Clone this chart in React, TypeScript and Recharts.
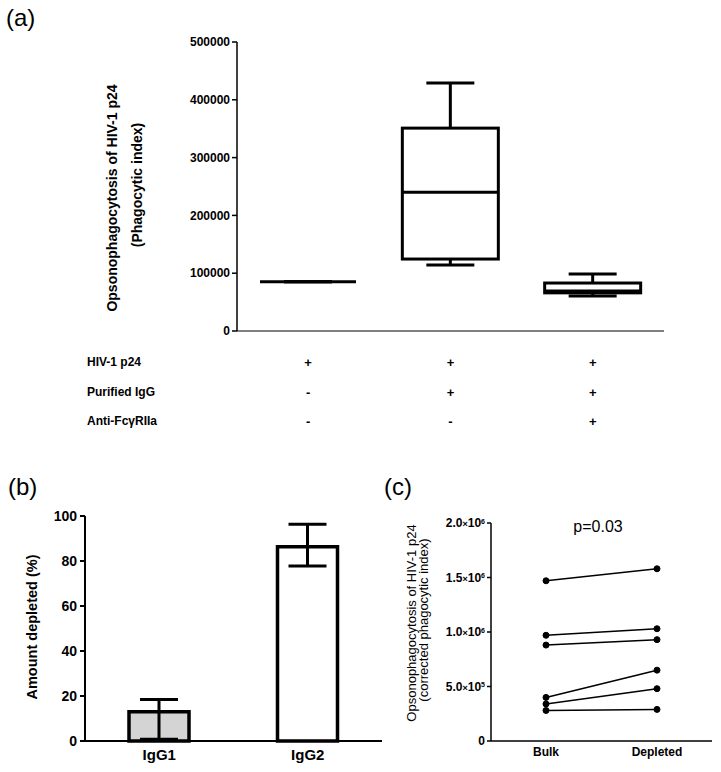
import React from "react";
import {
  ComposedChart,
  BarChart,
  LineChart,
  Bar,
  Line,
  Cell,
  ErrorBar,
  XAxis,
  YAxis,
} from "recharts";

const FONT = "Arial, 'Liberation Sans', Helvetica, sans-serif";

// (a) phagocytic index box plots
const conditions = ["p24", "p24 + IgG", "p24 + IgG + anti-FcγRIIa"];
const boxMin = [85000, 114000, 60500];
const boxQ1 = [85000, 124500, 66000];
const boxMedian = [85000, 240000, 69000];
const boxQ3 = [85000, 351000, 83000];
const boxMax = [85000, 429000, 98500];
const aTicks = [0, 100000, 200000, 300000, 400000, 500000];

const tableRows = ["HIV-1 p24", "Purified IgG", "Anti-FcγRIIa"];
const tableMarks = [
  ["+", "+", "+"],
  ["-", "+", "+"],
  ["-", "-", "+"],
];

// (b) amount depleted
const isotypes = ["IgG1", "IgG2"];
const depletedPct = [13, 86.3];
const depletedErrLow = [12.2, 8.5];
const depletedErrHigh = [5.5, 10];
const isotypeFills = ["#d4d4d4", "#ffffff"];
const bTicks = [0, 20, 40, 60, 80, 100];

// (c) paired bulk vs depleted
const pairConditions = ["Bulk", "Depleted"];
const bulkValues = [1470000, 970000, 880000, 400000, 340000, 280000];
const depletedValues = [1580000, 1030000, 930000, 650000, 480000, 290000];
const cTicks = [0, 500000, 1000000, 1500000, 2000000];

const boxData = conditions.map((name, i) => ({
  name,
  range: [boxMin[i], boxMax[i]],
  min: boxMin[i],
  q1: boxQ1[i],
  median: boxMedian[i],
  q3: boxQ3[i],
  max: boxMax[i],
}));

const depletionData = isotypes.map((name, i) => ({
  name,
  value: depletedPct[i],
  err: [depletedErrLow[i], depletedErrHigh[i]],
}));

const pairData = pairConditions.map((name, c) => {
  const row: Record<string, any> = { name };
  bulkValues.forEach((b, s) => {
    row["s" + s] = c === 0 ? b : depletedValues[s];
  });
  return row;
});

// table rows sit below the x axis of (a)
const rowOffsets = [31, 61, 90];

function BoxShape(props: any) {
  const { x, y, width, height, payload } = props;
  const top = Math.min(y, y + height);
  const bottom = Math.max(y, y + height);
  const span = payload.max - payload.min;
  const pix = (v: number) =>
    span === 0 ? bottom : bottom - ((v - payload.min) / span) * (bottom - top);
  const cx = x + width / 2;
  const cap = width / 4;
  return (
    <g stroke="#000" strokeWidth={3} fill="none">
      <line x1={cx} x2={cx} y1={pix(payload.max)} y2={pix(payload.q3)} />
      <line x1={cx - cap} x2={cx + cap} y1={pix(payload.max)} y2={pix(payload.max)} />
      <line x1={cx} x2={cx} y1={pix(payload.q1)} y2={pix(payload.min)} />
      <line x1={cx - cap} x2={cx + cap} y1={pix(payload.min)} y2={pix(payload.min)} />
      <rect
        x={x}
        y={pix(payload.q3)}
        width={width}
        height={Math.max(0, pix(payload.q1) - pix(payload.q3))}
      />
      <line x1={x} x2={x + width} y1={pix(payload.median)} y2={pix(payload.median)} />
    </g>
  );
}

function TableTick(props: any) {
  const { x, y, index } = props;
  return (
    <g style={{ fontFamily: FONT, fontWeight: "bold" }} fontSize={13} fill="#000">
      {tableMarks.map((marks, r) => (
        <text key={r} x={x} y={y + rowOffsets[r]} dy="0.35em" textAnchor="middle">
          {marks[index]}
        </text>
      ))}
    </g>
  );
}

function SciTick(props: any) {
  const { x, y, payload } = props;
  const v = payload.value;
  const style = { fontFamily: FONT, fontWeight: "bold" as const, fill: "#000" };
  if (v === 0) {
    return (
      <text x={x} y={y} dy="0.35em" textAnchor="end" fontSize={12} style={style}>
        0
      </text>
    );
  }
  const exp = Math.floor(Math.log10(v));
  const mant = (v / Math.pow(10, exp)).toFixed(1);
  return (
    <text x={x} y={y} dy="0.35em" textAnchor="end" fontSize={12} style={style}>
      <tspan>{mant}</tspan>
      <tspan fontSize={9}>×</tspan>
      <tspan>10</tspan>
      <tspan dy="-0.5em" fontSize={7}>
        {exp}
      </tspan>
    </text>
  );
}

const titleA = () => (
  <g style={{ fontFamily: FONT, fontWeight: "bold" }} fontSize={14} fill="#000">
    <text transform="translate(117,198) rotate(-90)" textAnchor="middle">
      Opsonophagocytosis of HIV-1 p24
    </text>
    <text transform="translate(142,185) rotate(-90)" textAnchor="middle">
      (Phagocytic index)
    </text>
  </g>
);

const titleB = () => (
  <text
    transform="translate(37,187) rotate(-90)"
    textAnchor="middle"
    fontSize={14.5}
    fill="#000"
    style={{ fontFamily: FONT, fontWeight: "bold" }}
  >
    Amount depleted (%)
  </text>
);

const titleC = () => (
  <g style={{ fontFamily: FONT }} fontSize={13} fill="#000">
    <text transform="translate(46,183) rotate(-90)" textAnchor="middle">
      Opsonophagocytosis of  HIV-1 p24
    </text>
    <text transform="translate(58,180) rotate(-90)" textAnchor="middle">
      (corrected phagocytic index)
    </text>
  </g>
);

const panelLabel = (text: string, left: number, top: number) => (
  <div
    style={{
      position: "absolute",
      left,
      top,
      fontSize: 24,
      lineHeight: "24px",
      fontFamily: FONT,
    }}
  >
    {text}
  </div>
);

export default function App() {
  return (
    <div
      style={{
        position: "absolute",
        left: 0,
        top: 0,
        width: 721,
        height: 772,
        background: "#fff",
        fontFamily: FONT,
        overflow: "hidden",
      }}
    >
      {panelLabel("(a)", 6, 6)}
      {panelLabel("(b)", 8, 475)}
      {panelLabel("(c)", 384, 475)}

      <div style={{ position: "absolute", left: 0, top: 0 }}>
        <ComposedChart
          width={721}
          height={440}
          data={boxData}
          margin={{ top: 42, right: 57, bottom: 0, left: 0 }}
        >
          <XAxis
            dataKey="name"
            height={109}
            tick={<TableTick />}
            tickLine={false}
            tickSize={0}
            tickMargin={0}
            interval={0}
            axisLine={{ stroke: "#000", strokeWidth: 1 }}
          />
          <YAxis
            width={237}
            domain={[0, 500000]}
            ticks={aTicks}
            interval={0}
            tickSize={5}
            tickMargin={2}
            axisLine={{ stroke: "#000", strokeWidth: 1.5 }}
            tickLine={{ stroke: "#000", strokeWidth: 1.5 }}
            tick={{ fill: "#000", fontSize: 12, fontWeight: "bold", fontFamily: FONT }}
            label={titleA}
          />
          <Bar
            dataKey="range"
            barSize={96}
            shape={<BoxShape />}
            isAnimationActive={false}
          />
        </ComposedChart>
      </div>

      {tableRows.map((label, r) => (
        <div
          key={label}
          style={{
            position: "absolute",
            left: 87,
            top: 331 + rowOffsets[r] - 8,
            fontSize: 12,
            lineHeight: "16px",
            fontWeight: "bold",
          }}
        >
          {label}
        </div>
      ))}

      <div style={{ position: "absolute", left: 0, top: 440 }}>
        <BarChart
          width={400}
          height={332}
          data={depletionData}
          margin={{ top: 76, right: 18, bottom: 0, left: 0 }}
        >
          <XAxis
            dataKey="name"
            height={31}
            tickLine={false}
            tickSize={0}
            tickMargin={8}
            axisLine={{ stroke: "#000", strokeWidth: 2 }}
            tick={{ fill: "#000", fontSize: 15, fontWeight: "bold", fontFamily: FONT }}
          />
          <YAxis
            width={85}
            domain={[0, 100]}
            ticks={bTicks}
            interval={0}
            tickSize={5}
            tickMargin={3}
            axisLine={{ stroke: "#000", strokeWidth: 2 }}
            tickLine={{ stroke: "#000", strokeWidth: 2 }}
            tick={{ fill: "#000", fontSize: 14, fontWeight: "bold", fontFamily: FONT }}
            label={titleB}
          />
          <Bar
            dataKey="value"
            barSize={60}
            stroke="#000"
            strokeWidth={3.5}
            isAnimationActive={false}
          >
            {depletionData.map((d, i) => (
              <Cell key={d.name} fill={isotypeFills[i]} />
            ))}
            <ErrorBar
              dataKey="err"
              width={19}
              stroke="#000"
              strokeWidth={3}
              direction="y"
            />
          </Bar>
        </BarChart>
      </div>

      <div style={{ position: "absolute", left: 370, top: 440 }}>
        <LineChart
          width={351}
          height={332}
          data={pairData}
          margin={{ top: 83, right: 9, bottom: 0, left: 0 }}
        >
          <XAxis
            dataKey="name"
            height={31}
            padding={{ left: 55, right: 55 }}
            tickLine={false}
            tickSize={0}
            tickMargin={6}
            axisLine={{ stroke: "#000", strokeWidth: 1.5 }}
            tick={{ fill: "#000", fontSize: 12, fontWeight: "bold", fontFamily: FONT }}
          />
          <YAxis
            width={121}
            domain={[0, 2000000]}
            ticks={cTicks}
            interval={0}
            tickSize={4}
            tickMargin={2}
            axisLine={{ stroke: "#000", strokeWidth: 1.5 }}
            tickLine={{ stroke: "#000", strokeWidth: 1.5 }}
            tick={<SciTick />}
            label={titleC}
          />
          {bulkValues.map((_, s) => (
            <Line
              key={s}
              dataKey={"s" + s}
              stroke="#000"
              strokeWidth={1.5}
              dot={{ r: 3, fill: "#000", stroke: "#000", strokeWidth: 1 }}
              isAnimationActive={false}
            />
          ))}
        </LineChart>
      </div>

      <div
        style={{
          position: "absolute",
          left: 548,
          width: 100,
          top: 518,
          textAlign: "center",
          fontSize: 16,
          lineHeight: "18px",
        }}
      >
        p=0.03
      </div>
    </div>
  );
}
